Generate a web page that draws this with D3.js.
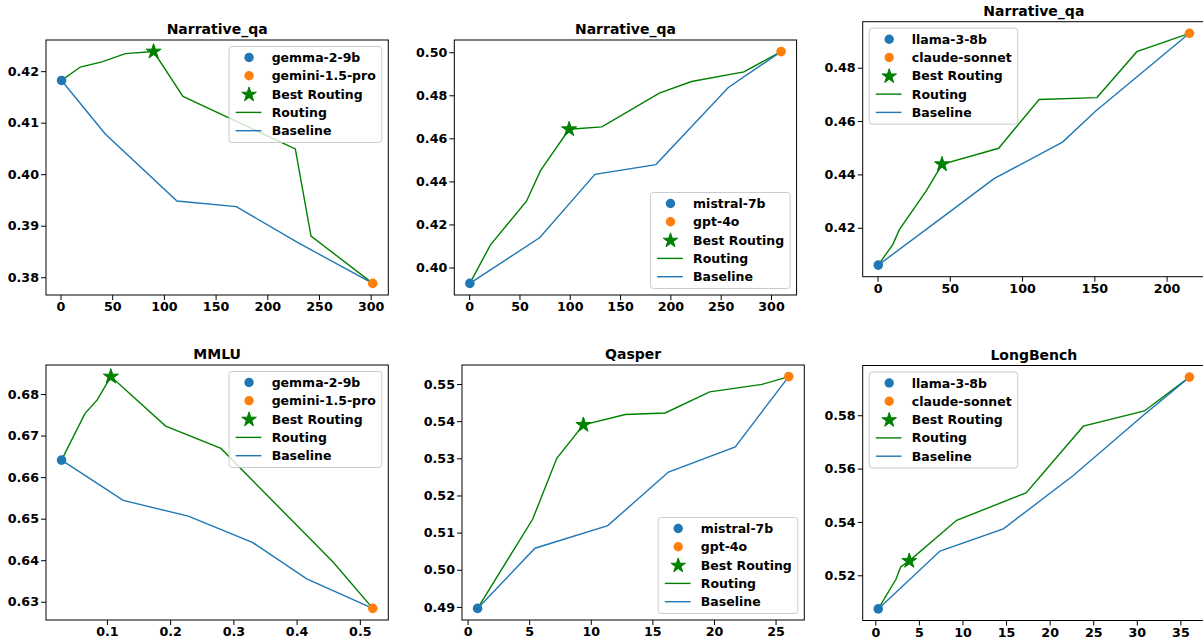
<!DOCTYPE html>
<html lang="en">
<head>
    <meta charset="UTF-8">
    <title>Routing vs Baseline</title>
    <script src="https://d3js.org/d3.v7.min.js"></script>
</head>
<style>
    html,body {
        margin: 0;
        padding: 0;
        background: #fff;
    }
    text {
        font-family: "DejaVu Sans", sans-serif;
        font-weight: bold;
    }
</style>
<body>
    <div id="chart"></div>
</body>
<script>
    // panel titles and model names
    const titles = ['Narrative_qa', 'Narrative_qa', 'Narrative_qa', 'MMLU', 'Qasper', 'LongBench'];
    const weakModels = ['gemma-2-9b', 'mistral-7b', 'llama-3-8b', 'gemma-2-9b', 'mistral-7b', 'llama-3-8b'];
    const strongModels = ['gemini-1.5-pro', 'gpt-4o', 'claude-sonnet', 'gemini-1.5-pro', 'gpt-4o', 'claude-sonnet'];
    // index of the best routing point on each routing curve
    const bestIndex = [4, 4, 4, 3, 3, 3];

    // panel 1: Narrative_qa, gemma-2-9b / gemini-1.5-pro
    const routing1X = [1, 19.1, 40.0, 62.6, 90.0, 118.4, 227.1, 242.3, 302];
    const routing1Y = [0.4182, 0.4208, 0.4218, 0.4234, 0.4238, 0.4151, 0.4049, 0.3880, 0.3788];
    const baseline1X = [1, 43.3, 112.6, 170, 228.8, 302];
    const baseline1Y = [0.4182, 0.4078, 0.3948, 0.3937, 0.3868, 0.3788];
    const xTicks1 = [0, 50, 100, 150, 200, 250, 300];
    const yTicks1 = [0.38, 0.39, 0.40, 0.41, 0.42];

    // panel 2: Narrative_qa, mistral-7b / gpt-4o
    const routing2X = [0.7, 21.2, 57, 70.9, 99.4, 131.9, 189, 221.1, 273.1, 310];
    const routing2Y = [0.3926, 0.4105, 0.4308, 0.4450, 0.4642, 0.4653, 0.4810, 0.4864, 0.4909, 0.5003];
    const baseline2X = [0.7, 70.3, 125, 185.6, 257.6, 310];
    const baseline2Y = [0.3926, 0.4139, 0.4433, 0.4478, 0.4836, 0.5003];
    const xTicks2 = [0, 50, 100, 150, 200, 250, 300];
    const yTicks2 = [0.40, 0.42, 0.44, 0.46, 0.48, 0.50];

    // panel 3: Narrative_qa, llama-3-8b / claude-sonnet
    const routing3X = [0.5, 10.6, 15.2, 33.7, 44.6, 83.8, 111.8, 151.8, 179.4, 215.8];
    const routing3Y = [0.4060, 0.4138, 0.4194, 0.4338, 0.4438, 0.4498, 0.4681, 0.4688, 0.4860, 0.4929];
    const baseline3X = [0.5, 48.3, 80.6, 128, 150.6, 215.8];
    const baseline3Y = [0.4060, 0.4253, 0.4384, 0.4521, 0.4636, 0.4929];
    const xTicks3 = [0, 50, 100, 150, 200];
    const yTicks3 = [0.42, 0.44, 0.46, 0.48];

    // panel 4: MMLU, gemma-2-9b / gemini-1.5-pro
    const routing4X = [0.0283, 0.0652, 0.0847, 0.1063, 0.1929, 0.2804, 0.458, 0.5204];
    const routing4Y = [0.6641, 0.6753, 0.6786, 0.6842, 0.6723, 0.6669, 0.6395, 0.6284];
    const baseline4X = [0.0283, 0.1258, 0.2287, 0.330, 0.416, 0.5204];
    const baseline4Y = [0.6641, 0.6544, 0.6506, 0.6443, 0.6355, 0.6284];
    const xTicks4 = [0.1, 0.2, 0.3, 0.4, 0.5];
    const yTicks4 = [0.63, 0.64, 0.65, 0.66, 0.67, 0.68];

    // panel 5: Qasper, mistral-7b / gpt-4o
    const routing5X = [0.81, 5.28, 7.24, 9.4, 12.8, 16.04, 19.65, 23.9, 26.07];
    const routing5Y = [0.4896, 0.5136, 0.5300, 0.5390, 0.5418, 0.5422, 0.5479, 0.5499, 0.5520];
    const baseline5X = [0.81, 5.47, 11.38, 16.31, 21.73, 26.07];
    const baseline5Y = [0.4896, 0.5058, 0.5119, 0.5263, 0.5331, 0.5520];
    const xTicks5 = [0, 5, 10, 15, 20, 25];
    const yTicks5 = [0.49, 0.50, 0.51, 0.52, 0.53, 0.54, 0.55];

    // panel 6: LongBench, llama-3-8b / claude-sonnet
    const routing6X = [0.34, 2.37, 2.91, 3.9, 9.33, 17.3, 23.87, 30.87, 36.04];
    const routing6Y = [0.5074, 0.5185, 0.5231, 0.5254, 0.5406, 0.5509, 0.5759, 0.5816, 0.5943];
    const baseline6X = [0.34, 7.42, 14.69, 22.72, 30.76, 36.04];
    const baseline6Y = [0.5074, 0.5291, 0.5374, 0.5574, 0.5800, 0.5943];
    const xTicks6 = [0, 5, 10, 15, 20, 25, 30, 35];
    const yTicks6 = [0.52, 0.54, 0.56, 0.58];

    const routingX = [routing1X, routing2X, routing3X, routing4X, routing5X, routing6X];
    const routingY = [routing1Y, routing2Y, routing3Y, routing4Y, routing5Y, routing6Y];
    const baselineX = [baseline1X, baseline2X, baseline3X, baseline4X, baseline5X, baseline6X];
    const baselineY = [baseline1Y, baseline2Y, baseline3Y, baseline4Y, baseline5Y, baseline6Y];
    const xTicks = [xTicks1, xTicks2, xTicks3, xTicks4, xTicks5, xTicks6];
    const yTicks = [yTicks1, yTicks2, yTicks3, yTicks4, yTicks5, yTicks6];

    // layout of each axes box (pixels) and legend corner
    const boxes = [
        {left: 46, top: 40, legend: 'ur'},
        {left: 454.3, top: 40, legend: 'lr'},
        {left: 862.7, top: 21.7, legend: 'ul'},
        {left: 46, top: 365, legend: 'ur'},
        {left: 462, top: 365, legend: 'lr'},
        {left: 862.7, top: 365.5, legend: 'ul'}
    ];
    const boxW = 342.3;
    const boxH = 255;

    const width = 1203;
    const height = 641;
    const blue = '#1f77b4';
    const orange = '#ff7f0e';
    const green = '#008000';

    const svg = d3.select('#chart').append('svg')
        .attr('width', width)
        .attr('height', height);
    svg.append('rect').attr('width', width).attr('height', height).attr('fill', '#fff');

    // matplotlib style 5% margin around the data
    function padded(values) {
        const [lo, hi] = d3.extent(values);
        const m = (hi - lo) * 0.05;
        return [lo - m, hi + m];
    }

    const star = d3.symbol().type(d3.symbolStar);

    boxes.forEach((b, k) => {
        const rx = routingX[k], ry = routingY[k];
        const bx = baselineX[k], by = baselineY[k];
        const g = svg.append('g');

        const x = d3.scaleLinear()
            .domain(padded(rx.concat(bx)))
            .range([b.left, b.left + boxW]);
        const y = d3.scaleLinear()
            .domain(padded(ry.concat(by)))
            .range([b.top + boxH, b.top]);

        const xFmt = k === 3 ? d3.format('.1f') : d3.format('d');

        const xAxis = g.append('g')
            .attr('transform', `translate(0,${b.top + boxH})`)
            .call(d3.axisBottom(x).tickValues(xTicks[k]).tickFormat(xFmt).tickSize(5).tickPadding(2));
        const yAxis = g.append('g')
            .attr('transform', `translate(${b.left},0)`)
            .call(d3.axisLeft(y).tickValues(yTicks[k]).tickFormat(d3.format('.2f')).tickSize(5).tickPadding(2));
        [xAxis, yAxis].forEach(a => {
            a.select('.domain').remove();
            a.selectAll('.tick line').attr('stroke', '#000').attr('stroke-width', 1);
            a.selectAll('.tick text').attr('fill', '#000').style('font-size', '12.7px');
        });

        const line = d3.line().x(d => x(d[0])).y(d => y(d[1]));

        g.append('path')
            .datum(d3.zip(rx, ry))
            .attr('d', line)
            .attr('fill', 'none')
            .attr('stroke', green)
            .attr('stroke-width', 1.4);
        g.append('path')
            .datum(d3.zip(bx, by))
            .attr('d', line)
            .attr('fill', 'none')
            .attr('stroke', blue)
            .attr('stroke-width', 1.4);

        // weak and strong model points
        const last = rx.length - 1;
        g.append('circle')
            .attr('cx', x(rx[0])).attr('cy', y(ry[0])).attr('r', 4.8).attr('fill', blue);
        g.append('circle')
            .attr('cx', x(rx[last])).attr('cy', y(ry[last])).attr('r', 4.8).attr('fill', orange);
        // best routing star
        const bi = bestIndex[k];
        g.append('path')
            .attr('d', star.size(70)())
            .attr('transform', `translate(${x(rx[bi])},${y(ry[bi])})`)
            .attr('fill', green)
            .attr('stroke', green)
            .attr('stroke-width', 1)
            .attr('stroke-linejoin', 'miter');

        // frame
        g.append('rect')
            .attr('x', b.left).attr('y', b.top)
            .attr('width', boxW).attr('height', boxH)
            .attr('fill', 'none').attr('stroke', '#000').attr('stroke-width', 1);

        // title
        g.append('text')
            .attr('x', b.left + boxW / 2)
            .attr('y', b.top - 6)
            .attr('text-anchor', 'middle')
            .style('font-size', '14px')
            .text(titles[k]);

        // legend
        const labels = [weakModels[k], strongModels[k], 'Best Routing', 'Routing', 'Baseline'];
        const lg = g.append('g');
        const bg = lg.append('rect');
        const rowH = 18.3;
        const items = lg.selectAll('g.item').data(labels).enter().append('g')
            .attr('transform', (d, i) => `translate(0,${11 + i * rowH})`);
        items.append('text')
            .attr('x', 42.6)
            .attr('dy', '0.36em')
            .style('font-size', '12.5px')
            .text(d => d);
        items.filter((d, i) => i === 0).append('circle').attr('cx', 20).attr('r', 4.7).attr('fill', blue);
        items.filter((d, i) => i === 1).append('circle').attr('cx', 20).attr('r', 4.7).attr('fill', orange);
        items.filter((d, i) => i === 2).append('path')
            .attr('d', star.size(66)())
            .attr('transform', 'translate(20,0.5)')
            .attr('fill', green)
            .attr('stroke', green)
            .attr('stroke-width', 1);
        items.filter((d, i) => i >= 3).append('line')
            .attr('x1', 6.6).attr('x2', 32.3)
            .attr('stroke', (d, i) => i === 0 ? green : blue)
            .attr('stroke-width', 1.4);

        let maxW = 0;
        items.select('text').each(function () {
            maxW = Math.max(maxW, this.getComputedTextLength());
        });
        const lw = 42.6 + maxW + 6;
        const lh = 96;
        bg.attr('width', lw).attr('height', lh)
            .attr('rx', 3)
            .attr('fill', '#fff').attr('fill-opacity', 0.8)
            .attr('stroke', '#cccccc').attr('stroke-width', 1);

        const inset = 6.5;
        let lx, ly;
        if (b.legend === 'ur') {
            lx = b.left + boxW - inset - lw; ly = b.top + inset;
        } else if (b.legend === 'lr') {
            lx = b.left + boxW - inset - lw; ly = b.top + boxH - inset - lh;
        } else {
            lx = b.left + inset; ly = b.top + inset;
        }
        lg.attr('transform', `translate(${lx},${ly})`);
    });
</script>
</html>
